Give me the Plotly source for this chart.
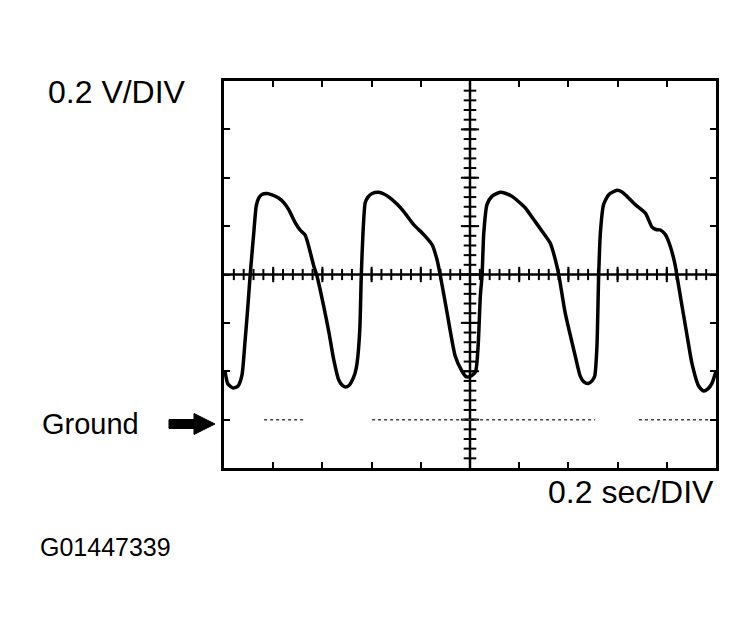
import numpy as np
import plotly.graph_objects as go

# Oscilloscope trace: time (s) and voltage (V, relative to ground)
time_s = [0.004, 0.016, 0.037, 0.057, 0.073, 0.085, 0.098, 0.107, 0.121, 0.131,
          0.141, 0.154, 0.175, 0.195, 0.222, 0.244, 0.263, 0.290, 0.309, 0.330,
          0.344, 0.365, 0.378, 0.405, 0.427, 0.446, 0.466, 0.480, 0.493, 0.508,
          0.520, 0.533, 0.541, 0.552, 0.558, 0.565, 0.574, 0.585, 0.602, 0.629,
          0.650, 0.676, 0.703, 0.730, 0.771, 0.812, 0.846, 0.866, 0.879, 0.907,
          0.940, 0.967, 0.984, 1.001, 1.022, 1.033, 1.042, 1.049, 1.056, 1.069,
          1.089, 1.123, 1.146, 1.171, 1.225, 1.259, 1.293, 1.326, 1.347, 1.361,
          1.387, 1.428, 1.448, 1.463, 1.480, 1.496, 1.507, 1.516, 1.523, 1.530,
          1.543, 1.564, 1.598, 1.618, 1.638, 1.672, 1.713, 1.740, 1.756, 1.774,
          1.794, 1.814, 1.835, 1.841, 1.862, 1.882, 1.902, 1.930, 1.950, 1.967,
          1.984, 2.000]
volts = [0.201, 0.147, 0.131, 0.139, 0.184, 0.317, 0.482, 0.606, 0.772, 0.883,
         0.916, 0.931, 0.935, 0.929, 0.916, 0.896, 0.868, 0.813, 0.784, 0.763,
         0.718, 0.635, 0.594, 0.470, 0.358, 0.248, 0.165, 0.143, 0.135, 0.141,
         0.160, 0.193, 0.234, 0.372, 0.595, 0.772, 0.896, 0.920, 0.935, 0.940,
         0.933, 0.916, 0.891, 0.861, 0.806, 0.765, 0.723, 0.661, 0.598, 0.441,
         0.262, 0.201, 0.178, 0.179, 0.197, 0.304, 0.511, 0.595, 0.772, 0.889,
         0.923, 0.940, 0.935, 0.923, 0.875, 0.827, 0.779, 0.730, 0.661, 0.598,
         0.441, 0.262, 0.180, 0.156, 0.149, 0.160, 0.180, 0.303, 0.595, 0.772,
         0.889, 0.930, 0.948, 0.941, 0.923, 0.889, 0.854, 0.796, 0.786, 0.784,
         0.765, 0.717, 0.634, 0.596, 0.469, 0.350, 0.234, 0.138, 0.118, 0.127,
         0.151, 0.201]

# Ground reference (dotted, with gaps)
ground_t = [0.163, 0.325, None, 0.602, 1.508, None, 1.687, 1.992]
ground_v = [0.0, 0.0, None, 0.0, 0.0, None, 0.0, 0.0]

x_range = [0.0, 2.0]      # 10 div x 0.2 s
y_range = [-0.2, 1.4]     # 8 div x 0.2 V
x_center = 1.0
y_center = 0.6

FONT = "Arial, Liberation Sans, Helvetica, sans-serif"

fig = go.Figure()

# graticule centre lines
fig.add_trace(go.Scatter(x=x_range, y=[y_center, y_center], mode="lines",
                         line=dict(color="black", width=2.5), hoverinfo="skip"))
fig.add_trace(go.Scatter(x=[x_center, x_center], y=y_range, mode="lines",
                         line=dict(color="black", width=2.5), hoverinfo="skip"))

# minor ticks on centre lines
minor_x = np.round(np.arange(0.04, 2.0, 0.04), 3)
minor_y = np.round(np.arange(-0.16, 1.4, 0.04), 3)
fig.add_trace(go.Scatter(x=minor_x, y=[y_center] * len(minor_x), mode="markers",
                         marker=dict(symbol="line-ns", size=8,
                                     line=dict(color="black", width=2)),
                         hoverinfo="skip"))
fig.add_trace(go.Scatter(x=[x_center] * len(minor_y), y=minor_y, mode="markers",
                         marker=dict(symbol="line-ew", size=9,
                                     line=dict(color="black", width=2)),
                         hoverinfo="skip"))
major_x = np.round(np.arange(0.2, 2.0, 0.2), 3)
major_y = np.round(np.arange(0.0, 1.4, 0.2), 3)
fig.add_trace(go.Scatter(x=major_x, y=[y_center] * len(major_x), mode="markers",
                         marker=dict(symbol="line-ns", size=11,
                                     line=dict(color="black", width=2)),
                         hoverinfo="skip"))
fig.add_trace(go.Scatter(x=[x_center] * len(major_y), y=major_y, mode="markers",
                         marker=dict(symbol="line-ew", size=13,
                                     line=dict(color="black", width=2)),
                         hoverinfo="skip"))

# ground line
fig.add_trace(go.Scatter(x=ground_t, y=ground_v, mode="lines",
                         line=dict(color="#444444", width=1.5, dash="dot"),
                         hoverinfo="skip"))

# signal
fig.add_trace(go.Scatter(x=time_s, y=volts, mode="lines",
                         line=dict(color="black", width=3.5, shape="spline",
                                   smoothing=0.6),
                         hoverinfo="skip"))

fig.update_xaxes(range=x_range, dtick=0.2, tick0=0, showgrid=False, zeroline=False,
                 showline=True, linecolor="black", linewidth=2.5, mirror="ticks",
                 ticks="inside", ticklen=6, tickwidth=2, tickcolor="black",
                 showticklabels=False, fixedrange=True)
fig.update_yaxes(range=y_range, dtick=0.2, tick0=0, showgrid=False, zeroline=False,
                 showline=True, linecolor="black", linewidth=2.5, mirror="ticks",
                 ticks="inside", ticklen=6, tickwidth=2, tickcolor="black",
                 showticklabels=False, fixedrange=True)

annotations = [
    dict(text="0.2 V/DIV", x=-0.3617, y=0.972, xanchor="left", yanchor="middle",
         font=dict(size=32)),
    dict(text="Ground", x=-0.374, y=0.113, xanchor="left", yanchor="middle",
         font=dict(size=29)),
    dict(text="0.2 sec/DIV", x=1.0, y=-0.062, xanchor="right", yanchor="middle",
         font=dict(size=32)),
    dict(text="G01447339", x=-0.378, y=-0.205, xanchor="left", yanchor="middle",
         font=dict(size=25)),
]
for a in annotations:
    a.update(xref="paper", yref="paper", showarrow=False)
    a["font"].update(family=FONT, color="black")

arrow_path = ("M -0.1118,0.1253 L -0.0610,0.1253 L -0.0610,0.1408 L -0.0183,0.1137 "
              "L -0.0610,0.0866 L -0.0610,0.1021 L -0.1118,0.1021 Z")

# the page body adds a small offset; margins compensate so the frame sits at 222..714 / 78..465
fig.update_layout(
    width=754, height=627,
    margin=dict(l=216, r=46, t=73, b=167),
    paper_bgcolor="white", plot_bgcolor="white",
    showlegend=False,
    annotations=annotations,
    shapes=[dict(type="path", path=arrow_path, xref="paper", yref="paper",
                 fillcolor="black", line=dict(color="black", width=1))],
    font=dict(family=FONT, color="black"),
)

fig.write_html("out.html", config={"displayModeBar": False})
